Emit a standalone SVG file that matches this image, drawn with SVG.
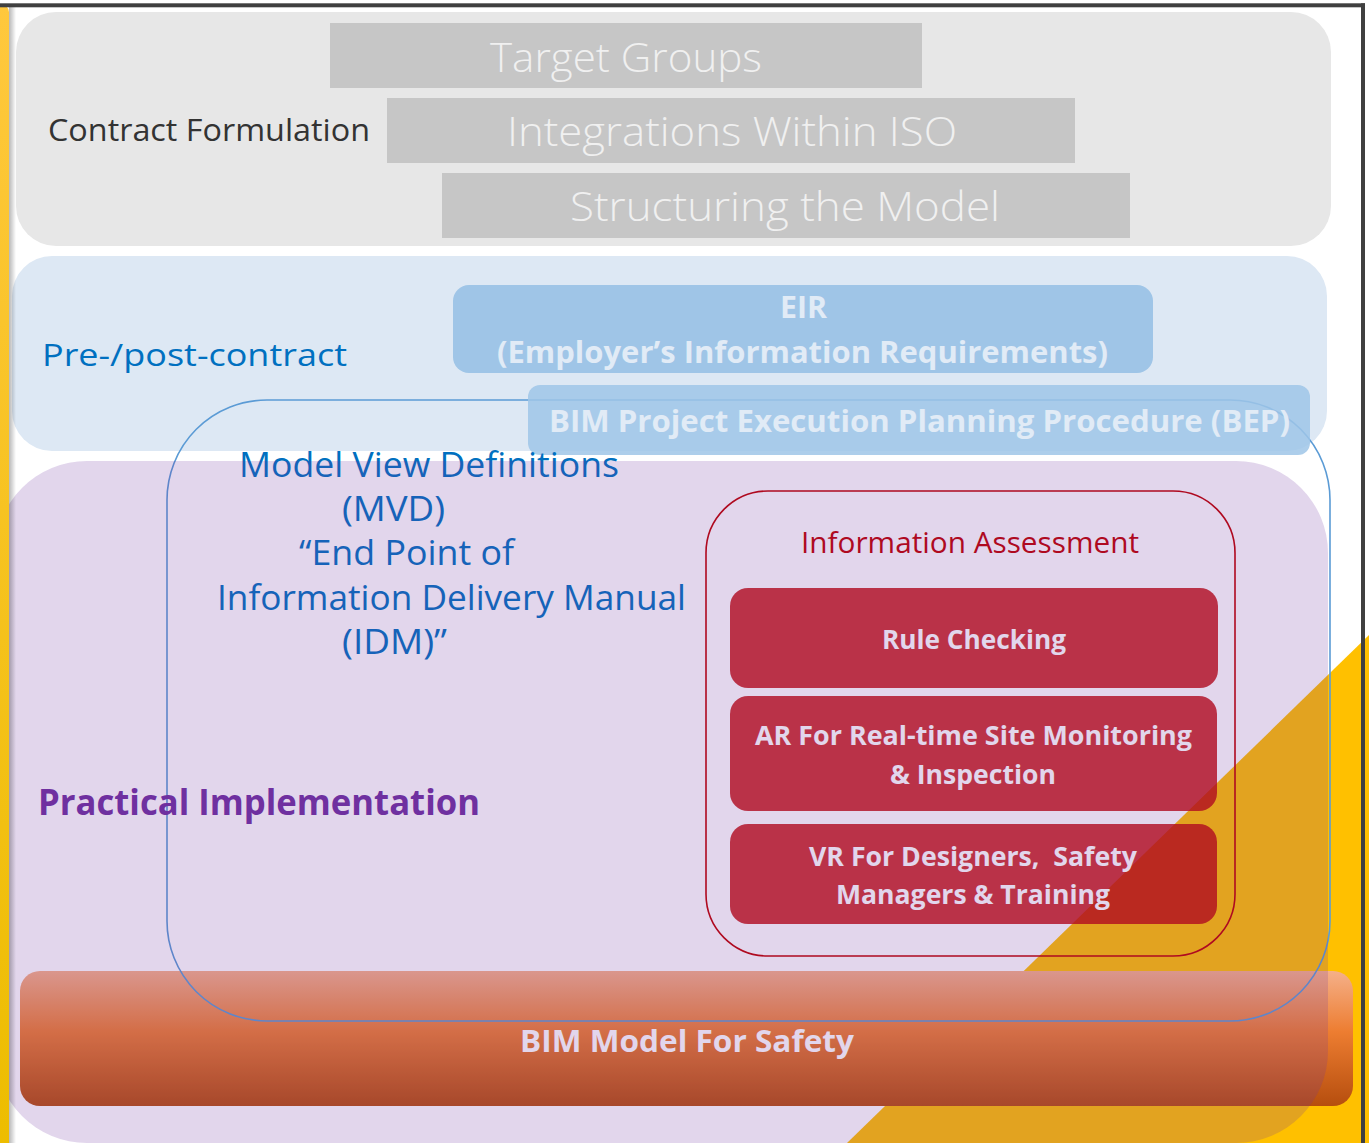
<svg xmlns="http://www.w3.org/2000/svg" width="1369" height="1143" viewBox="0 0 1369 1143">
  <defs>
    <linearGradient id="barFill" x1="0" y1="0" x2="0" y2="1">
      <stop offset="0" stop-color="#F5B089"/>
      <stop offset="0.45" stop-color="#ED7D31"/>
      <stop offset="1" stop-color="#B64E0E"/>
    </linearGradient>
    <linearGradient id="stripFill" x1="0" y1="0" x2="0" y2="1">
      <stop offset="0" stop-color="#FFC83D"/>
      <stop offset="1" stop-color="#EDBD00"/>
    </linearGradient>
    <linearGradient id="stripShadow" x1="0" y1="0" x2="1" y2="0">
      <stop offset="0" stop-color="#000" stop-opacity="0.28"/>
      <stop offset="1" stop-color="#000" stop-opacity="0"/>
    </linearGradient>
    <style>
      text { font-family: "Open Sans", "Noto Sans", "Liberation Sans", sans-serif; }
      .grayTxt { font-size: 40px; font-weight: 300; fill: #F0F0F0; }
      .lbl { font-size: 31px; }
      .blueTxt { font-size: 34px; fill: #0070C0; }
      .bold { font-weight: 700; }
      .boxTxt { font-size: 27px; font-weight: 700; fill: #FFFFFF; }
      .eirTxt { font-size: 30px; font-weight: 700; fill: #E1EBF6; }
      .redBox { fill: #C00000; fill-opacity: 0.8; }
      .grayBox { fill: #C6C6C6; }
      .lightBlueBox { fill: #9FC5E7; }
    </style>
  </defs>

  <rect x="0" y="0" width="1369" height="1143" fill="#FFFFFF"/>

  <!-- corner wedge, bottom right -->
  <polygon id="corner-wedge" points="847,1143 1369,635 1369,1143" fill="#FFC000"/>

  <!-- contract formulation band -->
  <g id="contract-formulation">
    <rect x="16" y="12" width="1315" height="234" rx="40" fill="#E7E7E7"/>
    <text x="48" y="141" class="lbl" fill="#333333" textLength="322" lengthAdjust="spacingAndGlyphs">Contract Formulation</text>
  </g>
  <g id="target-groups">
    <rect x="330" y="23" width="592" height="65" class="grayBox"/>
    <text x="490" y="72" class="grayTxt" textLength="272" lengthAdjust="spacingAndGlyphs">Target Groups</text>
  </g>
  <g id="integrations-iso">
    <rect x="387" y="98" width="688" height="65" class="grayBox"/>
    <text x="507" y="146" class="grayTxt" textLength="450" lengthAdjust="spacingAndGlyphs">Integrations Within ISO</text>
  </g>
  <g id="structuring-model">
    <rect x="442" y="173" width="688" height="65" class="grayBox"/>
    <text x="570" y="221" class="grayTxt" textLength="430" lengthAdjust="spacingAndGlyphs">Structuring the Model</text>
  </g>

  <!-- pre/post contract band -->
  <g id="pre-post-contract">
    <rect x="12" y="256" width="1315" height="195" rx="40" fill="#DDE8F4"/>
    <text x="42" y="366" class="lbl" fill="#0070C0" font-size="33" textLength="305" lengthAdjust="spacingAndGlyphs">Pre-/post-contract</text>
  </g>
  <g id="eir">
    <rect x="453" y="285" width="700" height="88" rx="16" class="lightBlueBox"/>
    <text x="780" y="318" class="eirTxt" textLength="47" lengthAdjust="spacingAndGlyphs">EIR</text>
    <text x="497" y="363" class="eirTxt" textLength="611" lengthAdjust="spacingAndGlyphs">(Employer’s Information Requirements)</text>
  </g>

  <!-- base bar of the lower section -->
  <g id="bim-model-for-safety">
    <rect x="20" y="971" width="1333" height="135" rx="20" fill="url(#barFill)"/>
    <text x="520" y="1052" class="bold" font-size="31" fill="#FFFFFF" textLength="334" lengthAdjust="spacingAndGlyphs">BIM Model For Safety</text>
  </g>

  <!-- outline enclosing the model view definitions -->
  <g id="connectors">
    <rect id="mvd-outline" x="167" y="400" width="1163" height="621" rx="100" fill="none" stroke="#5B9BD5" stroke-width="1.6"/>
  </g>

  <g id="bep">
    <rect x="528" y="385" width="782" height="70" rx="12" class="lightBlueBox" fill-opacity="0.85"/>
    <text x="549" y="432" class="eirTxt" textLength="741" lengthAdjust="spacingAndGlyphs">BIM Project Execution Planning Procedure (BEP)</text>
  </g>

  <!-- practical implementation band contents -->
  <g id="mvd">
    <text x="239" y="477" class="blueTxt" textLength="380" lengthAdjust="spacingAndGlyphs">Model View Definitions</text>
    <text x="342" y="521" class="blueTxt" textLength="103" lengthAdjust="spacingAndGlyphs">(MVD)</text>
    <text x="299" y="565" class="blueTxt" textLength="215" lengthAdjust="spacingAndGlyphs">“End Point of</text>
    <text x="217" y="610" class="blueTxt" textLength="469" lengthAdjust="spacingAndGlyphs">Information Delivery Manual</text>
    <text x="342" y="654" class="blueTxt" textLength="105" lengthAdjust="spacingAndGlyphs">(IDM)”</text>
  </g>

  <g id="practical-implementation-label">
    <text x="38" y="815" class="bold" font-size="35" fill="#7030A0" textLength="442" lengthAdjust="spacingAndGlyphs">Practical Implementation</text>
  </g>

  <g id="information-assessment">
    <rect x="706" y="491" width="529" height="465" rx="62" fill="none" stroke="#C00000" stroke-width="1.6"/>
    <text x="801" y="553" font-size="30" fill="#C00000" textLength="338" lengthAdjust="spacingAndGlyphs">Information Assessment</text>
  </g>
  <g id="rule-checking">
    <rect x="730" y="588" width="488" height="100" rx="18" class="redBox"/>
    <text x="882" y="649" class="boxTxt" textLength="184" lengthAdjust="spacingAndGlyphs">Rule Checking</text>
  </g>
  <g id="ar-monitoring">
    <rect x="730" y="696" width="487" height="115" rx="18" class="redBox"/>
    <text x="755" y="745" class="boxTxt" textLength="437" lengthAdjust="spacingAndGlyphs">AR For Real-time Site Monitoring</text>
    <text x="890" y="784" class="boxTxt" textLength="166" lengthAdjust="spacingAndGlyphs">&amp; Inspection</text>
  </g>
  <g id="vr-training">
    <rect x="730" y="824" width="487" height="100" rx="18" class="redBox"/>
    <text x="809" y="866" class="boxTxt" xml:space="preserve" textLength="328" lengthAdjust="spacingAndGlyphs">VR For Designers,  Safety</text>
    <text x="836" y="904" class="boxTxt" textLength="274" lengthAdjust="spacingAndGlyphs">Managers &amp; Training</text>
  </g>

  <!-- translucent purple band laid over the lower section -->
  <g id="practical-implementation">
    <rect x="-5" y="461" width="1333" height="682" rx="92" fill="#7030A0" fill-opacity="0.2"/>
  </g>

  <!-- left accent strip with soft shadow -->
  <rect x="9" y="5" width="7" height="1138" fill="url(#stripShadow)"/>
  <path d="M0,5 H2 A7,7 0 0 1 9,12 V1143 H0 Z" fill="url(#stripFill)"/>

  <!-- frame lines -->
  <rect x="0" y="3.3" width="1365" height="4" fill="#404040"/>
  <rect x="1361" y="3.3" width="4" height="1140" fill="#404040"/>
</svg>
